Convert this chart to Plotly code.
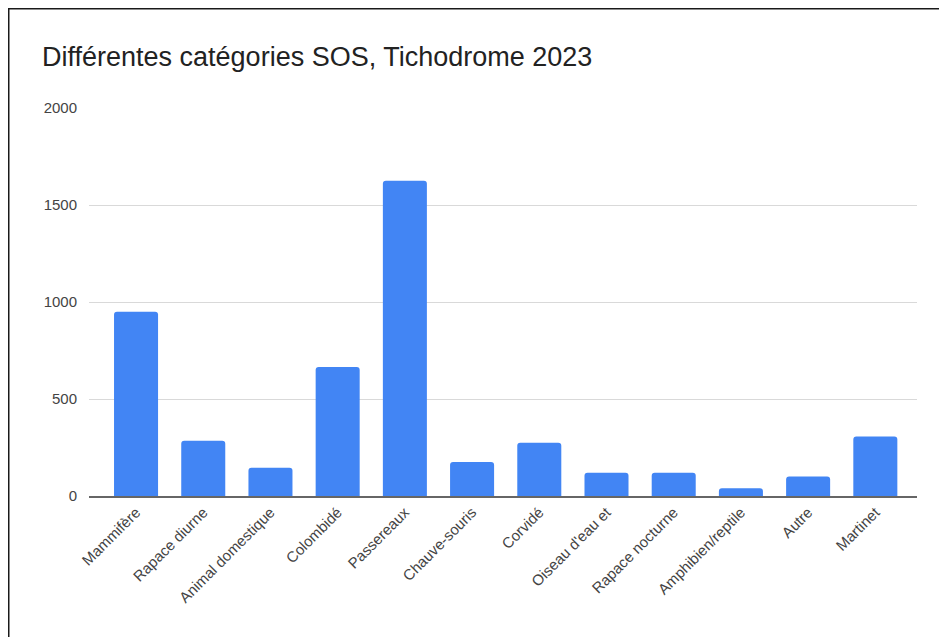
import plotly.graph_objects as go

categories = ["Mammifère", "Rapace diurne", "Animal domestique", "Colombidé", "Passereaux",
              "Chauve-souris", "Corvidé", "Oiseau d'eau et", "Rapace nocturne",
              "Amphibien/reptile", "Autre", "Martinet"]
values = [950, 285, 145, 665, 1625, 175, 275, 120, 120, 40, 100, 307]
y_ticks = [0, 500, 1000, 1500, 2000]

FONT = "Liberation Sans, Arial, sans-serif"

fig = go.Figure(go.Bar(
    x=categories, y=values,
    marker=dict(color="#4285F4", line=dict(width=0), cornerradius=3),
))

# page body has an 8px margin; positions below are in figure pixels
W, H = 947, 637
L, R, T, B = 81, 38, 100, 149
pw, ph = W - L - R, H - T - B

def px_x(px):
    return (px - L) / pw

def px_y(py):
    return (H - B - py) / ph

fig.update_layout(
    width=W, height=H,
    margin=dict(l=L, r=R, t=T, b=B, pad=0),
    paper_bgcolor="white", plot_bgcolor="white",
    bargap=0.345,
    showlegend=False,
    title=dict(text="Différentes catégories SOS, Tichodrome 2023",
               x=34 / W, xanchor="left", xref="container",
               y=1 - 49 / H, yanchor="middle", yref="container",
               font=dict(family=FONT, size=27, color="#222222")),
    font=dict(family=FONT, color="#444444"),
    xaxis=dict(type="category", range=[-0.70, 11.62], tickangle=-45,
               tickfont=dict(size=15, color="#444444"),
               showgrid=False, showline=True, linecolor="#666666", linewidth=1.5,
               ticks="", ticklen=0),
    yaxis=dict(range=[0, 2000], tickvals=y_ticks, ticktext=[str(v) for v in y_ticks],
               tickfont=dict(size=15, color="#444444"),
               showgrid=True, gridcolor="#d9d9d9", gridwidth=1,
               zeroline=False, showline=False, ticks="outside", ticklen=8,
               tickcolor="rgba(0,0,0,0)"),
    shapes=[
        dict(type="line", xref="paper", yref="paper",
             x0=px_x(0.5), x1=px_x(0.5), y0=px_y(0), y1=px_y(H + 5),
             line=dict(color="#1a1a1a", width=2)),
        dict(type="line", xref="paper", yref="paper",
             x0=px_x(0), x1=px_x(W + 5), y0=px_y(0.5), y1=px_y(0.5),
             line=dict(color="#1a1a1a", width=2)),
    ],
)

fig.write_html("out.html")
